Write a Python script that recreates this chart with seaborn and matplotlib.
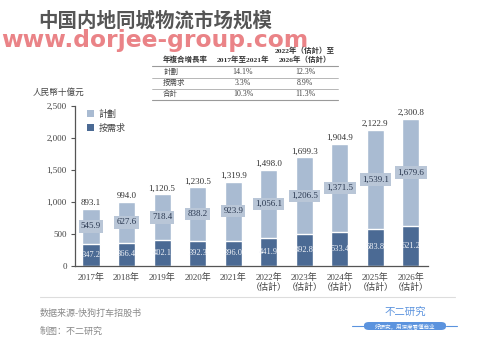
import matplotlib
matplotlib.use("Agg")
import matplotlib.pyplot as plt
import seaborn as sns
import pandas as pd
from matplotlib.patches import Patch, FancyBboxPatch
from matplotlib.lines import Line2D

# Market size, RMB billions
years = ["2017年", "2018年", "2019年", "2020年", "2021年",
         "2022年\n（估計）", "2023年\n（估計）", "2024年\n（估計）",
         "2025年\n（估計）", "2026年\n（估計）"]
planned = [545.9, 627.6, 718.4, 838.2, 923.9, 1056.1, 1206.5, 1371.5, 1539.1, 1679.6]
on_demand = [347.2, 366.4, 402.1, 392.3, 396.0, 441.9, 492.8, 533.4, 583.8, 621.2]
totals = [893.1, 994.0, 1120.5, 1230.5, 1319.9, 1498.0, 1699.3, 1904.9, 2122.9, 2300.8]

# CAGR table
cagr_rows = ["計劃", "按需求", "合計"]
cagr_hist = ["14.1%", "3.3%", "10.3%"]
cagr_fcst = ["12.3%", "8.9%", "11.3%"]

series_names = ["計劃", "按需求"]
yticks = [0, 500, 1000, 1500, 2000, 2500]

LIGHT = "#a9bbd2"
DARK = "#4b6a94"
LABEL_BOX = "#b9c6d7"
MIX = ["Liberation Serif", "Noto Sans CJK SC"]
CJK = ["Noto Sans CJK SC", "DejaVu Sans"]

sns.set_theme(style="white")
plt.rcParams["font.family"] = MIX

df = pd.DataFrame({"year": years, "total": totals, "on_demand": on_demand, "planned": planned})

W, H = 499, 342
fig = plt.figure(figsize=(W / 100, H / 100), dpi=100)
fig.patch.set_facecolor("white")


def fx(px):
    return px / W


def fy(py):
    return 1 - py / H


ax = fig.add_axes([fx(75), fy(266), fx(428) - fx(75), fy(106) - fy(266)])

sns.barplot(data=df, x="year", y="total", color=LIGHT, width=0.48,
            saturation=1, ax=ax, order=years)
sns.barplot(data=df, x="year", y="on_demand", color=DARK, width=0.48,
            saturation=1, ax=ax, order=years)

ax.set_xlim(-0.45, 9.48)
ax.set_ylim(0, 2500)
ax.set_yticks(yticks)
ax.set_yticklabels([f"{v:,}" for v in yticks])
ax.set_xlabel("")
ax.set_ylabel("")
ax.tick_params(axis="y", which="both", left=True, length=3, width=0.8,
               color="#555555", labelsize=6.5, labelcolor="#444444", pad=3)
ax.tick_params(axis="x", length=0, labelsize=6.5, labelcolor="#444444", pad=5)
for lab in ax.get_xticklabels():
    lab.set_family(MIX)
    lab.set_linespacing(1.1)
for side in ["top", "right"]:
    ax.spines[side].set_visible(False)
for side in ["left", "bottom"]:
    ax.spines[side].set_color("#555555")
    ax.spines[side].set_linewidth(0.9)

for i in range(len(years)):
    ax.text(i, totals[i] + 30, f"{totals[i]:,.1f}", ha="center", va="bottom",
            fontsize=6.5, color="#333333")
    ax.text(i, on_demand[i] + planned[i] / 2, f"{planned[i]:,.1f}", ha="center",
            va="center", fontsize=6.5, color="#2a3850",
            bbox=dict(boxstyle="square,pad=0.25", facecolor=LABEL_BOX, edgecolor="none"))
    ax.text(i, on_demand[i] / 2, f"{on_demand[i]:,.1f}", ha="center", va="center",
            fontsize=6.0, color="#f2f4f8")

handles = [Patch(facecolor=LIGHT, edgecolor="none"), Patch(facecolor=DARK, edgecolor="none")]
leg = ax.legend(handles, series_names, loc="upper left", bbox_to_anchor=(0.01, 1.03),
                frameon=False, handlelength=0.8, handleheight=0.8, handletextpad=0.5,
                labelspacing=0.55, prop={"family": CJK, "size": 6.5})
for t in leg.get_texts():
    t.set_color("#444444")

fig.text(fx(33), fy(92), "人民幣十億元", fontsize=6.2, color="#444444",
         family=CJK, va="center", ha="left")

# Title and watermark
fig.text(fx(38), fy(21), "中国内地同城物流市场规模", fontsize=14, fontweight="bold",
         color="#555555", family=CJK, va="center", ha="left")
fig.text(fx(1), fy(41), "www.dorjee-group.com", fontsize=16.8, fontweight="bold",
         color="#e8767a", alpha=0.9, family=["DejaVu Sans"], va="center", ha="left")

# CAGR table
tbl_left, tbl_right = 152, 338
col_x = [163, 243, 305]
fs_t = 5.4
fig.text(fx(col_x[0]), fy(59.5), "年複合增長率", fontsize=fs_t, fontweight="bold",
         color="#333333", family=CJK, va="center", ha="left")
fig.text(fx(col_x[1]), fy(59.5), "2017年至2021年", fontsize=fs_t, fontweight="bold",
         color="#333333", family=MIX, va="center", ha="center")
fig.text(fx(col_x[2]), fy(50), "2022年（估計）至", fontsize=fs_t, fontweight="bold",
         color="#333333", family=MIX, va="center", ha="center")
fig.text(fx(col_x[2]), fy(59.5), "2026年（估計）", fontsize=fs_t, fontweight="bold",
         color="#333333", family=MIX, va="center", ha="center")
row_y = [71.5, 83, 93.5]
for k in range(len(cagr_rows)):
    fig.text(fx(col_x[0]), fy(row_y[k]), cagr_rows[k], fontsize=fs_t, color="#444444",
             family=CJK, va="center", ha="left")
    fig.text(fx(col_x[1]), fy(row_y[k]), cagr_hist[k], fontsize=fs_t + 0.3, color="#444444",
             family=MIX, va="center", ha="center")
    fig.text(fx(col_x[2]), fy(row_y[k]), cagr_fcst[k], fontsize=fs_t + 0.3, color="#444444",
             family=MIX, va="center", ha="center")
for ly, lw in [(65.5, 0.8), (77.5, 0.5), (88.5, 0.5), (100, 0.8)]:
    fig.add_artist(Line2D([fx(tbl_left), fx(tbl_right)], [fy(ly), fy(ly)],
                          color="#9a9a9a", linewidth=lw))

# Footer
fig.add_artist(Line2D([fx(40), fx(455)], [fy(297), fy(297)], color="#dddddd", linewidth=0.8))
fig.text(fx(40), fy(313), "数据来源-快狗打车招股书", fontsize=6.5, color="#8a8a8a",
         family=CJK, va="center", ha="left")
fig.text(fx(40), fy(331), "制图：不二研究", fontsize=6.5, color="#8a8a8a",
         family=CJK, va="center", ha="left")
fig.text(fx(405), fy(313), "不二研究", fontsize=7.5, color="#5b93de",
         family=CJK, va="center", ha="center")
fig.add_artist(FancyBboxPatch((fx(364), fy(330)), fx(446) - fx(364), fy(322) - fy(330),
                              boxstyle="round,pad=0,rounding_size=0.01",
                              facecolor="#5b93de", edgecolor="none"))
fig.add_artist(Line2D([fx(352), fx(364)], [fy(326), fy(326)], color="#5b93de", linewidth=0.8))
fig.add_artist(Line2D([fx(446), fx(457)], [fy(326), fy(326)], color="#5b93de", linewidth=0.8))
fig.text(fx(405), fy(326), "好研究，用深度看懂商业", fontsize=4.0, color="white",
         family=CJK, va="center", ha="center")

fig.savefig("out.png", dpi=100, facecolor="white")
